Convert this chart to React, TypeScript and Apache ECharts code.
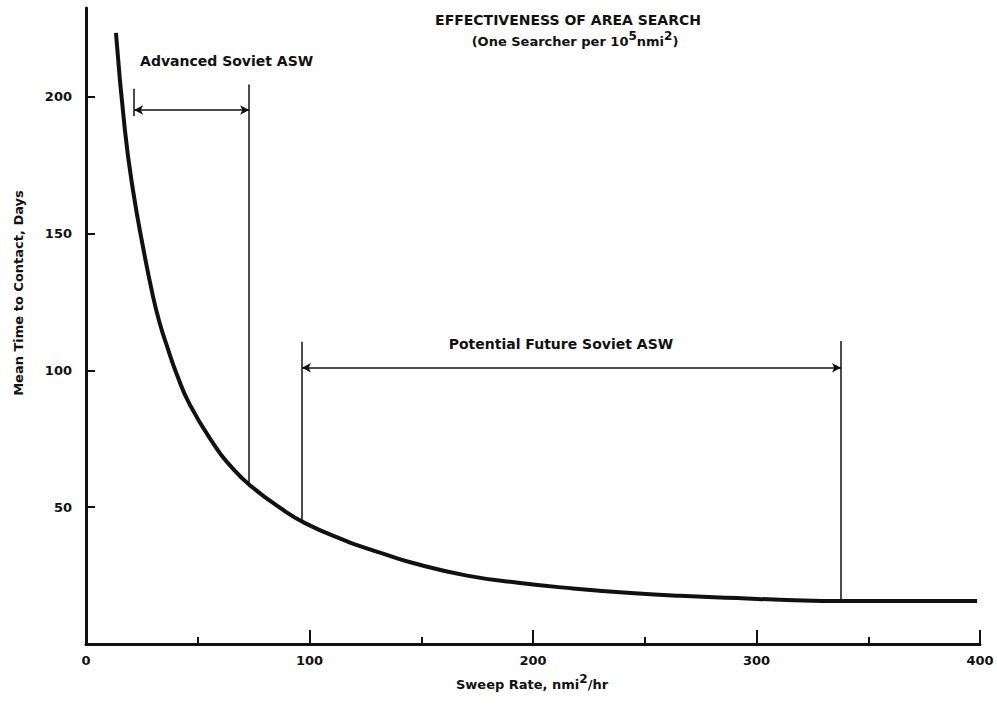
import React, { useEffect, useRef } from "react";
import * as echarts from "echarts";

// ---- data ----
const curveX = [13.4, 17.4, 21.0, 25.5, 30.0, 33.1, 36.2, 40.7, 46.5, 56.8, 65.8, 74.3, 86.8, 98.0, 116.8, 122.6, 131.5, 146.3, 170.5, 194.2, 217.9, 242.1, 265.8, 291.3, 313.6, 338.7, 398.7];
const curveY = [223.4, 187.9, 166, 145.2, 127, 117, 109, 98.4, 87.4, 73.5, 64.0, 57.4, 49.8, 44.2, 37.5, 35.8, 33.4, 29.6, 25.0, 22.3, 20.3, 18.7, 17.6, 16.8, 16.1, 15.7, 15.7];

const bracketNames = ["Advanced Soviet ASW", "Potential Future Soviet ASW"];
const bracketStartX = [21.5, 96.6];
const bracketEndX = [73, 337.8];
const bracketArrowY = [195.2, 101];
const bracketLeftTopY = [203, 110.5];
const bracketLeftBottomY = [193, 44.8];
const bracketRightTopY = [204.5, 110.8];
const bracketRightBottomY = [57.5, 15.7];
const labelX = [24.2, 212.5];
const labelY = [213, 109.5];

const xTicks = [0, 100, 200, 300, 400];
const yTicks = [50, 100, 150, 200];

const titleText = "EFFECTIVENESS OF AREA SEARCH";
const subtitleText = "(One Searcher per 10{sup|5}nmi{sup|2})";
const xName = "Sweep Rate, nmi{sup|2}/hr";
const yName = "Mean Time to Contact, Days";

const FONT = "DejaVu Sans";
const INK = "#111";

export default function App() {
  const ref = useRef<HTMLDivElement>(null);
  useEffect(() => {
    if (!ref.current) return;
    const chart = echarts.init(ref.current, null, { renderer: "svg" });

    const markData: any[] = [];
    for (let i = 0; i < bracketNames.length; i++) {
      markData.push([
        { coord: [bracketStartX[i], bracketLeftTopY[i]], symbol: "none" },
        { coord: [bracketStartX[i], bracketLeftBottomY[i]], symbol: "none" },
      ]);
      markData.push([
        { coord: [bracketEndX[i], bracketRightTopY[i]], symbol: "none" },
        { coord: [bracketEndX[i], bracketRightBottomY[i]], symbol: "none" },
      ]);
      markData.push([
        { coord: [bracketStartX[i], bracketArrowY[i]], symbol: "arrow" },
        { coord: [bracketEndX[i], bracketArrowY[i]], symbol: "arrow" },
      ]);
    }

    const supRich = {
      sup: { fontFamily: FONT, fontWeight: "bold", fontSize: 12, lineHeight: 10, verticalAlign: "top", fill: INK },
    };

    chart.setOption({
      animation: false,
      backgroundColor: "#fff",
      grid: { left: 86, right: 17, top: 8, bottom: 61 },
      xAxis: {
        type: "value",
        min: 0,
        max: 400,
        interval: 100,
        axisLine: { show: true, lineStyle: { color: INK, width: 3 } },
        axisTick: { show: true, inside: true, length: 14, lineStyle: { color: INK, width: 2 } },
        minorTick: { show: true, splitNumber: 2, length: 7, lineStyle: { color: INK, width: 2 } },
        splitLine: { show: false },
        axisLabel: {
          customValues: xTicks,
          color: INK,
          fontFamily: FONT,
          fontWeight: "bold",
          fontSize: 13,
          margin: 10,
        },
      },
      yAxis: {
        type: "value",
        min: 0,
        max: 232.5,
        axisLine: { show: true, lineStyle: { color: INK, width: 3 } },
        axisTick: { show: true, inside: true, length: 9, customValues: yTicks, lineStyle: { color: INK, width: 2 } },
        splitLine: { show: false },
        axisLabel: {
          customValues: yTicks,
          color: INK,
          fontFamily: FONT,
          fontWeight: "bold",
          fontSize: 13,
          margin: 14,
        },
      },
      graphic: [
        {
          type: "text",
          x: 568,
          y: 20,
          style: { text: titleText, font: `bold 14px "${FONT}"`, fill: INK, align: "center", verticalAlign: "middle" },
        },
        {
          type: "text",
          x: 575,
          y: 41,
          style: {
            text: subtitleText,
            font: `bold 13px "${FONT}"`,
            fill: INK,
            align: "center",
            verticalAlign: "middle",
            lineHeight: 22,
            rich: supRich,
          },
        },
        {
          type: "text",
          x: 532,
          y: 684,
          style: {
            text: xName,
            font: `bold 13px "${FONT}"`,
            fill: INK,
            align: "center",
            verticalAlign: "middle",
            lineHeight: 22,
            rich: supRich,
          },
        },
        {
          type: "text",
          x: 18,
          y: 293,
          rotation: Math.PI / 2,
          style: { text: yName, font: `bold 13px "${FONT}"`, fill: INK, align: "center", verticalAlign: "middle" },
        },
      ],
      series: [
        {
          type: "line",
          data: curveX.map((x, i) => [x, curveY[i]]),
          smooth: 0.5,
          showSymbol: false,
          symbol: "none",
          lineStyle: { color: INK, width: 4 },
          silent: true,
        },
        {
          type: "scatter",
          symbolSize: 0,
          silent: true,
          itemStyle: { opacity: 1, color: INK },
          data: bracketNames.map((n, i) => ({
            value: [labelX[i], labelY[i]],
            name: n,
            label: {
              show: true,
              formatter: n,
              position: i === 0 ? "right" : "inside",
              distance: 0,
              color: INK,
              opacity: 1,
              fontFamily: FONT,
              fontWeight: "bold",
              fontSize: 14,
            },
          })),
          markLine: {
            silent: true,
            symbolSize: [7, 9],
            label: { show: false },
            lineStyle: { color: INK, width: 1.5, type: "solid", opacity: 1 },
            emphasis: { disabled: true },
            data: markData,
          },
        },
      ],
    });
    return () => chart.dispose();
  }, []);
  return <div ref={ref} style={{ position: "fixed", left: 0, top: 0, width: 997, height: 705 }} />;
}
